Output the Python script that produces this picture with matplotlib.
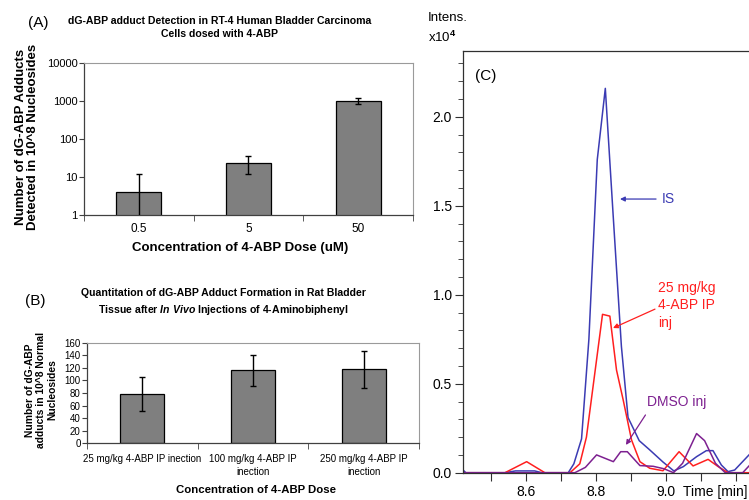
import matplotlib
matplotlib.use("Agg")
import matplotlib.pyplot as plt
import numpy as np

plt.rcParams['font.family'] = ['Liberation Sans', 'DejaVu Sans']
plt.rcParams['mathtext.fontset'] = 'custom'
plt.rcParams['mathtext.rm'] = 'Liberation Sans:bold'
plt.rcParams['mathtext.it'] = 'Liberation Sans:italic:bold'

# panel A - RT-4 cells, log scale
a_labels = ['0.5', '5', '50']
a_values = [4.0, 24.0, 1020.0]
a_errors = [8.0, 12.0, 200.0]
a_yticks = [1, 10, 100, 1000, 10000]

# panel B - rat bladder tissue
b_labels = ['25 mg/kg 4-ABP IP inection', '100 mg/kg 4-ABP IP\ninection',
            '250 mg/kg 4-ABP IP\ninection']
b_values = [79.0, 116.0, 118.0]
b_errors = [27.0, 24.5, 29.5]
b_yticks = [0, 20, 40, 60, 80, 100, 120, 140, 160]

# panel C - chromatograms (time in min, intensity x10^4)
is_t = [8.42, 8.428, 8.54, 8.57, 8.625, 8.645, 8.721, 8.737, 8.759, 8.78,
        8.804, 8.827, 8.849, 8.873, 8.892, 8.924, 8.953, 8.992, 9.023, 9.05,
        9.088, 9.116, 9.135, 9.159, 9.178, 9.197, 9.238]
is_i = [0.015, 0.0, 0.0, 0.01, 0.01, 0.0, 0.0, 0.05, 0.19, 0.75,
        1.76, 2.16, 1.46, 0.71, 0.31, 0.18, 0.13, 0.06, 0.01, 0.034,
        0.09, 0.124, 0.124, 0.043, 0.006, 0.015, 0.10]
abp_t = [8.42, 8.54, 8.602, 8.654, 8.726, 8.754, 8.773, 8.819, 8.84, 8.859,
         8.878, 8.902, 8.926, 8.954, 8.992, 9.038, 9.078, 9.121, 9.15, 9.178,
         9.238]
abp_i = [0.0, 0.0, 0.062, 0.0, 0.0, 0.05, 0.2, 0.89, 0.88, 0.577,
         0.41, 0.184, 0.062, 0.025, 0.011, 0.118, 0.038, 0.075, 0.034, 0.0,
         0.0]
dmso_t = [8.42, 8.74, 8.77, 8.802, 8.85, 8.871, 8.89, 8.926, 8.964, 8.995,
          9.022, 9.048, 9.088, 9.111, 9.142, 9.17, 9.22, 9.238]
dmso_i = [0.0, 0.0, 0.03, 0.10, 0.062, 0.118, 0.118, 0.04, 0.036, 0.022,
          0.0, 0.053, 0.22, 0.18, 0.053, 0.0, 0.0, 0.038]
c_ticks = [8.5, 8.6, 8.7, 8.8, 8.9, 9.0, 9.1, 9.2]
c_ticklabels = ['', '8.6', '', '8.8', '', '9.0', '', '']

blue = '#3b3bb3'
red = '#ff1f1f'
purple = '#7d2090'
bar_col = '#7f7f7f'

fig = plt.figure(figsize=(7.49, 5.0), dpi=100)


def style_bar_axes(ax):
    for s in ['top', 'right']:
        ax.spines[s].set_color('#9a9a9a')
        ax.spines[s].set_linewidth(0.8)
    for s in ['left', 'bottom']:
        ax.spines[s].set_color('#404040')
        ax.spines[s].set_linewidth(0.9)
    ax.set_xlim(-0.5, 2.5)
    ax.set_xticks([-0.5, 0.5, 1.5, 2.5], minor=True)
    ax.tick_params(axis='x', which='major', length=0)
    ax.tick_params(axis='x', which='minor', length=4, color='#404040')
    ax.tick_params(axis='y', length=3.5, color='#404040', pad=1)


# ---- panel A
axA = fig.add_axes([0.1121, 0.57, 0.4393, 0.304])
xa = np.arange(len(a_values))
axA.bar(xa, a_values, width=0.41, color=bar_col, edgecolor='black', linewidth=0.9, zorder=2)
axA.errorbar(xa, a_values, yerr=a_errors, fmt='none', ecolor='black',
             elinewidth=1.0, capsize=2.5, capthick=1.0, zorder=3)
axA.set_yscale('log')
axA.set_ylim(1, 10000)
axA.set_yticks(a_yticks)
axA.set_yticklabels([str(v) for v in a_yticks], fontsize=8)
axA.minorticks_off()
style_bar_axes(axA)
axA.set_xticks(xa)
axA.set_xticklabels(a_labels, fontsize=8.5)
axA.tick_params(axis='x', which='major', pad=6)

fig.text(0.051, 0.953, '(A)', fontsize=11, ha='center', va='center')
fig.text(0.2937, 0.945, 'dG-ABP adduct Detection in RT-4 Human Bladder Carcinoma\nCells dosed with 4-ABP',
         fontsize=7.6, fontweight='bold', ha='center', va='center', linespacing=1.45)
fig.text(0.036, 0.726, 'Number of dG-ABP Adducts\nDetected in 10^8 Nucleosides',
         fontsize=9.5, fontweight='bold', rotation=90, ha='center', va='center', linespacing=1.1)
fig.text(0.321, 0.503, 'Concentration of 4-ABP Dose (uM)', fontsize=9.5,
         fontweight='bold', ha='center', va='center')

# ---- panel B
axB = fig.add_axes([0.1162, 0.1134, 0.4432, 0.2012])
xb = np.arange(len(b_values))
axB.bar(xb, b_values, width=0.4, color=bar_col, edgecolor='black', linewidth=0.9, zorder=2)
axB.errorbar(xb, b_values, yerr=b_errors, fmt='none', ecolor='black',
             elinewidth=1.0, capsize=2.5, capthick=1.0, zorder=3)
axB.set_ylim(0, 160)
axB.set_yticks(b_yticks)
axB.set_yticklabels([str(v) for v in b_yticks], fontsize=7)
style_bar_axes(axB)
axB.set_xticks(xb)
axB.set_xticklabels(b_labels, fontsize=7, va='top', linespacing=1.3)
axB.tick_params(axis='x', which='major', pad=8)

fig.text(0.047, 0.399, '(B)', fontsize=11, ha='center', va='center')
fig.text(0.298, 0.413, 'Quantitation of dG-ABP Adduct Formation in Rat Bladder',
         fontsize=7.6, fontweight='bold', ha='center', va='center')
fig.text(0.298, 0.38, r'Tissue after $\it{In\ Vivo}$ Injections of 4-Aminobiphenyl',
         fontsize=7.6, fontweight='bold', ha='center', va='center')
fig.text(0.055, 0.22, 'Number of dG-ABP\nadducts in 10^8 Normal\nNucleosides',
         fontsize=7.4, fontweight='bold', rotation=90, ha='center', va='center',
         linespacing=1.2, multialignment='center')
fig.text(0.342, 0.02, 'Concentration of 4-ABP Dose', fontsize=8.2,
         fontweight='bold', ha='center', va='center')

# ---- panel C
axC = fig.add_axes([0.6182, 0.0546, 0.3818, 0.8434])
axC.plot(is_t, is_i, color=blue, lw=1.1)
axC.plot(abp_t, abp_i, color=red, lw=1.1)
axC.plot(dmso_t, dmso_i, color=purple, lw=1.1)
axC.set_xlim(8.42, 9.238)
axC.set_ylim(0, 2.37)
axC.spines['right'].set_visible(False)
for s in ['left', 'bottom', 'top']:
    axC.spines[s].set_color('#303030')
    axC.spines[s].set_linewidth(0.9)
axC.set_yticks([0.0, 0.5, 1.0, 1.5, 2.0])
axC.set_yticklabels(['0.0', '0.5', '1.0', '1.5', '2.0'], fontsize=10)
axC.set_yticks(np.arange(0.1, 2.35, 0.1), minor=True)
axC.tick_params(axis='y', which='major', length=6, color='#303030', pad=2)
axC.tick_params(axis='y', which='minor', length=3.5, color='#303030')
axC.set_xticks(c_ticks)
axC.set_xticklabels(c_ticklabels, fontsize=10)
axC.tick_params(axis='x', length=6, color='#303030', pad=3)

axC.text(8.455, 2.23, '(C)', fontsize=11, ha='left', va='center')
axC.annotate('IS', xy=(8.869, 1.538), xytext=(8.988, 1.538), color=blue, fontsize=10,
             va='center', ha='left',
             arrowprops=dict(arrowstyle='-|>', color=blue, lw=0.9, mutation_scale=7,
                             shrinkA=2, shrinkB=0))
axC.annotate('25 mg/kg\n4-ABP IP\ninj', xy=(8.849, 0.813), xytext=(8.977, 0.94), color=red,
             fontsize=10, va='center', ha='left', linespacing=1.3,
             arrowprops=dict(arrowstyle='-|>', color=red, lw=0.9, mutation_scale=7,
                             shrinkA=0, shrinkB=0, relpos=(0.0, 0.45)))
axC.annotate('DMSO inj', xy=(8.886, 0.156), xytext=(8.945, 0.399), color=purple,
             fontsize=10, va='center', ha='left',
             arrowprops=dict(arrowstyle='-|>', color=purple, lw=0.9, mutation_scale=7,
                             shrinkA=3, shrinkB=0, relpos=(0.05, 0.0)))

fig.text(0.5714, 0.964, 'Intens.', fontsize=9.5, ha='left', va='center')
fig.text(0.5714, 0.926, 'x10$^4$', fontsize=9.5, ha='left', va='center')
fig.text(0.912, 0.016, 'Time [min]', fontsize=10, ha='left', va='center')

fig.savefig('out.png', dpi=100)
